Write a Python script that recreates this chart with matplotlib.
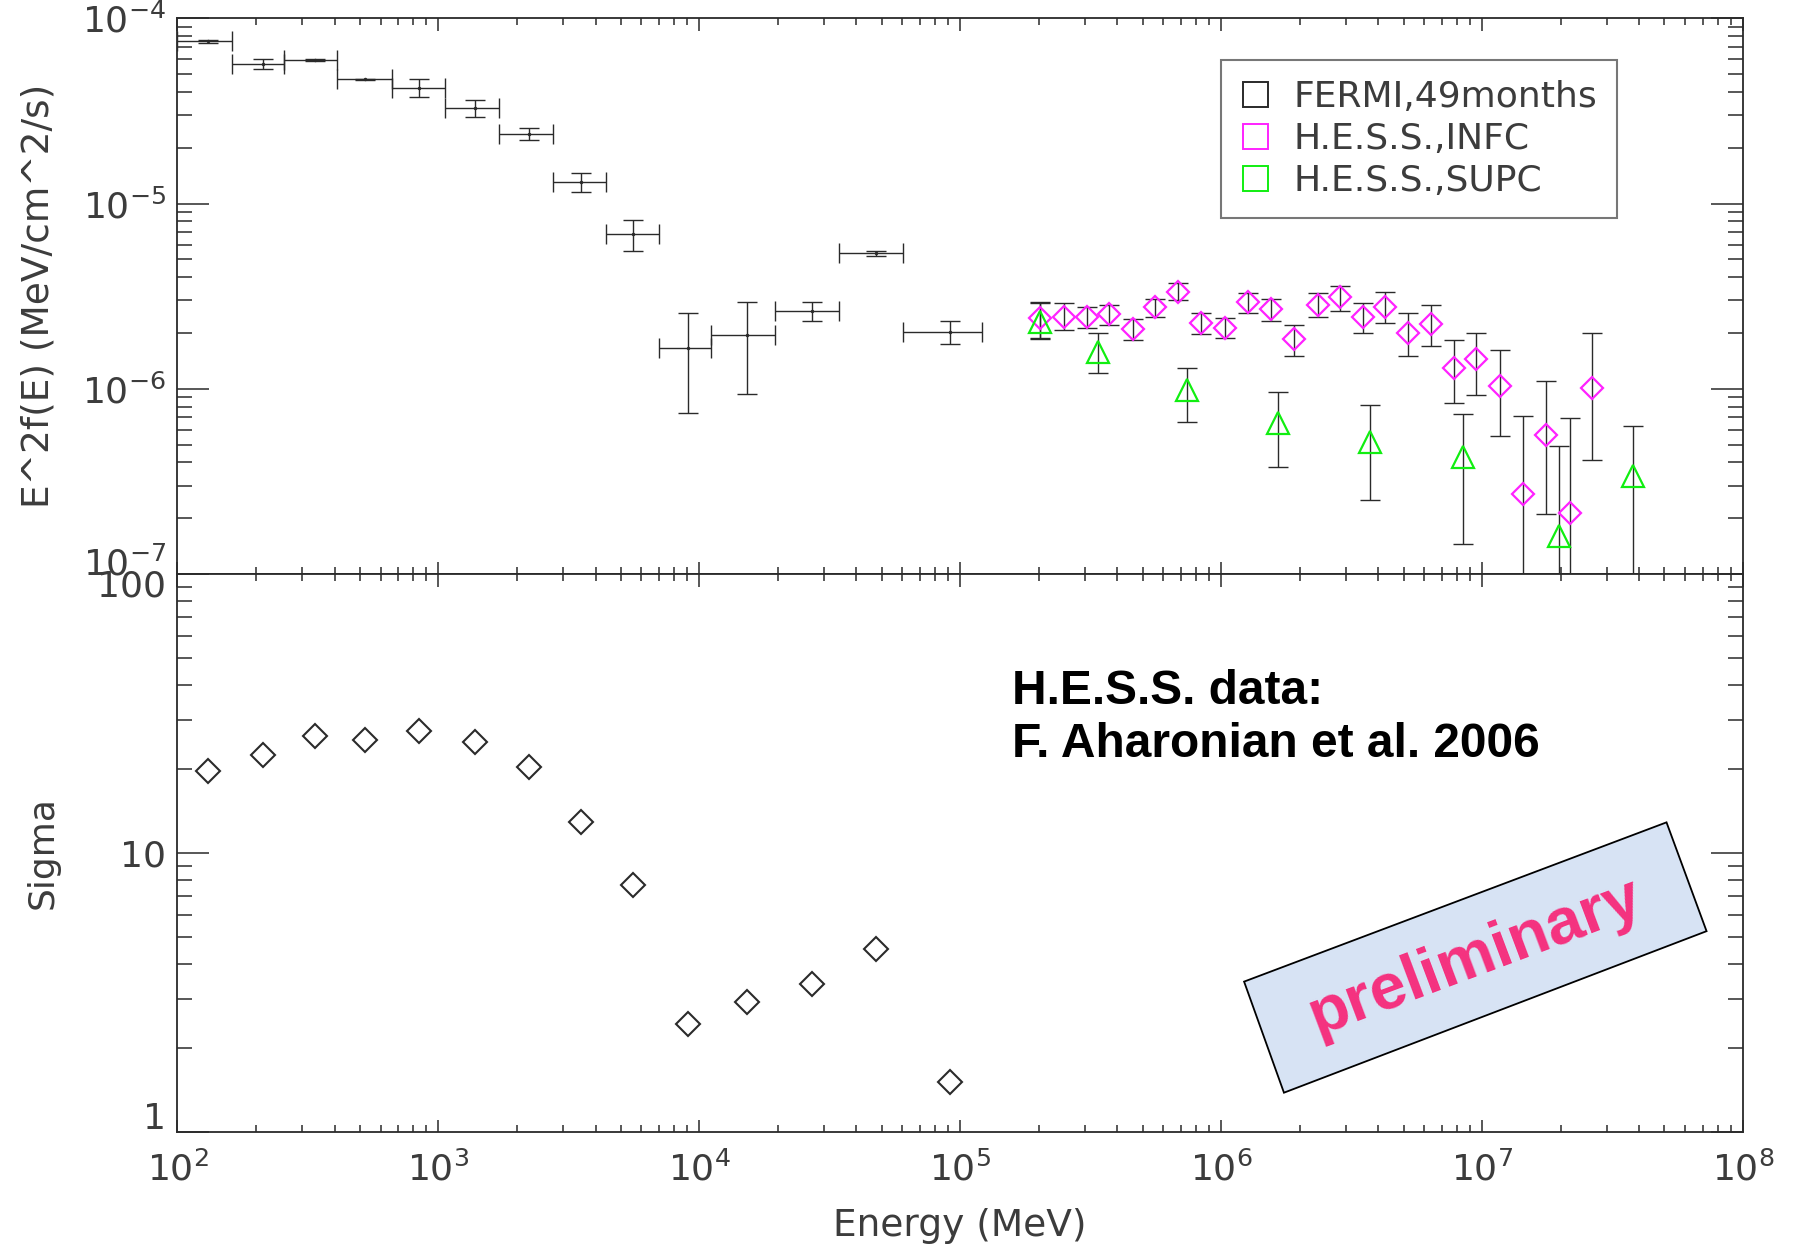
import matplotlib
matplotlib.use("Agg")
import matplotlib.pyplot as plt
import numpy as np
from matplotlib.lines import Line2D
from matplotlib.patches import Polygon
from matplotlib.ticker import LogLocator, NullFormatter, FuncFormatter

# FERMI, 49 months: bin edges and centres (MeV), E^2 f(E) (MeV/cm^2/s)
fermi_lo = [100, 162, 256, 409, 661, 1062, 1706, 2742, 4385, 7031, 11090, 19500, 34440, 60530]
fermi_hi = [162, 256, 409, 661, 1062, 1706, 2742, 4385, 7031, 11090, 19500, 34440, 60530, 121100]
fermi_e = [131, 212, 337, 525, 843, 1384, 2218, 3524, 5572, 9016, 15240, 26920, 47750, 90990]
fermi_f = [7.5e-5, 5.67e-5, 5.92e-5, 4.68e-5, 4.22e-5, 3.27e-5, 2.36e-5, 1.30e-5, 6.81e-6,
           1.65e-6, 1.95e-6, 2.63e-6, 5.38e-6, 2.03e-6]
fermi_up = [7.6e-5, 6.04e-5, 6.0e-5, 4.72e-5, 4.68e-5, 3.6e-5, 2.56e-5, 1.46e-5, 8.2e-6,
            2.55e-6, 2.95e-6, 2.95e-6, 5.55e-6, 2.32e-6]
fermi_dn = [7.4e-5, 5.33e-5, 5.85e-5, 4.64e-5, 3.76e-5, 2.93e-5, 2.19e-5, 1.15e-5, 5.56e-6,
            7.4e-7, 9.4e-7, 2.32e-6, 5.22e-6, 1.74e-6]
fermi_sigma = [19.6, 22.5, 26.3, 25.4, 27.3, 25.0, 20.4, 12.9, 7.66, 2.44, 2.93, 3.38, 4.54, 1.51]

# H.E.S.S. INFC
infc_e = [2.03e5, 2.49e5, 3.05e5, 3.72e5, 4.58e5, 5.58e5, 6.84e5, 8.39e5, 1.035e6, 1.27e6,
          1.55e6, 1.91e6, 2.34e6, 2.86e6, 3.50e6, 4.26e6, 5.19e6, 6.35e6, 7.80e6, 9.51e6,
          1.175e7, 1.43e7, 1.76e7, 2.18e7, 2.63e7]
infc_f = [2.40e-6, 2.45e-6, 2.43e-6, 2.52e-6, 2.09e-6, 2.75e-6, 3.34e-6, 2.27e-6, 2.13e-6, 2.93e-6,
          2.68e-6, 1.85e-6, 2.83e-6, 3.11e-6, 2.45e-6, 2.77e-6, 1.99e-6, 2.25e-6, 1.29e-6, 1.44e-6,
          1.03e-6, 2.69e-7, 5.62e-7, 2.14e-7, 1.01e-6]
infc_up = [2.89e-6, 2.89e-6, 2.77e-6, 2.83e-6, 2.37e-6, 3.05e-6, 3.71e-6, 2.57e-6, 2.42e-6, 3.27e-6,
           3.04e-6, 2.21e-6, 3.27e-6, 3.59e-6, 2.89e-6, 3.34e-6, 2.57e-6, 2.83e-6, 1.83e-6, 2.01e-6,
           1.62e-6, 7.12e-7, 1.10e-6, 6.92e-7, 2.01e-6]
infc_dn = [1.87e-6, 2.07e-6, 2.12e-6, 2.21e-6, 1.83e-6, 2.45e-6, 3.01e-6, 1.97e-6, 1.87e-6, 2.55e-6,
           2.33e-6, 1.50e-6, 2.45e-6, 2.63e-6, 2.01e-6, 2.27e-6, 1.50e-6, 1.70e-6, 8.40e-7, 9.24e-7,
           5.58e-7, 1e-8, 2.12e-7, 1e-8, 4.15e-7]

# H.E.S.S. SUPC
supc_e = [2.03e5, 3.38e5, 7.41e5, 1.656e6, 3.72e6, 8.47e6, 1.977e7, 3.776e7]
supc_f = [2.30e-6, 1.585e-6, 9.84e-7, 6.50e-7, 5.18e-7, 4.29e-7, 1.60e-7, 3.38e-7]
supc_up = [2.93e-6, 2.01e-6, 1.30e-6, 9.63e-7, 8.16e-7, 7.27e-7, 4.93e-7, 6.29e-7]
supc_dn = [1.85e-6, 1.21e-6, 6.58e-7, 3.76e-7, 2.51e-7, 1.46e-7, 1e-8, 1e-8]

labels = ["FERMI,49months", "H.E.S.S.,INFC", "H.E.S.S.,SUPC"]

INK = "#2a2a2a"
TXT = "#3c3c3c"
MAG = "#ff22ff"
GRN = "#11ee11"

plt.rcParams["font.family"] = ["DejaVu Sans"]

fig = plt.figure(figsize=(17.96, 12.58), dpi=100)
ax1 = fig.add_axes([0.09883, 0.54372, 0.87166, 0.44173])
ax2 = fig.add_axes([0.09883, 0.10016, 0.87166, 0.44356])

# ---- top panel: spectrum
e = np.array(fermi_e)
f = np.array(fermi_f)
ax1.errorbar(e, f,
             xerr=[e - np.array(fermi_lo), np.array(fermi_hi) - e],
             yerr=[f - np.array(fermi_dn), np.array(fermi_up) - f],
             fmt=".", ms=3, color=INK, ecolor=INK, elinewidth=1.0, capsize=7, capthick=1.0)

fi = np.array(infc_f)
ax1.errorbar(infc_e, fi, yerr=[fi - np.array(infc_dn), np.array(infc_up) - fi],
             fmt="none", ecolor=INK, elinewidth=1.0, capsize=7, capthick=1.0)
fs = np.array(supc_f)
ax1.errorbar(supc_e, fs, yerr=[fs - np.array(supc_dn), np.array(supc_up) - fs],
             fmt="none", ecolor=INK, elinewidth=1.0, capsize=7, capthick=1.0)
ax1.plot(infc_e, infc_f, "D", ms=11.5, mfc="none", mec=MAG, mew=1.6, zorder=4)
ax1.plot(supc_e, supc_f, "^", ms=16, mfc="none", mec=GRN, mew=1.6, zorder=4)

ax1.set_yscale("log")
ax1.set_ylim(1e-7, 1e-4)
ax1.set_ylabel("E^2f(E) (MeV/cm^2/s)", fontsize=27, color=TXT)
ax1.yaxis.set_label_coords(-0.077, 0.5)
ax1.yaxis.set_major_formatter(FuncFormatter(
    lambda v, p: "" if v < 1.5e-7 else r"$\mathdefault{10^{%d}}$" % round(np.log10(v))))

handles = [Line2D([], [], ls="none", marker="s", ms=18, mfc="none", mec=c, mew=1.4)
           for c in (INK, MAG, GRN)]
leg = ax1.legend(handles, labels, loc="upper left", bbox_to_anchor=(0.6666, 0.9245),
                 fontsize=26, frameon=True, fancybox=False, borderpad=0.55,
                 handlelength=0.8, handletextpad=0.65, labelspacing=0.22,
                 borderaxespad=0.0)
leg.get_frame().set_edgecolor("#555555")
leg.get_frame().set_linewidth(1.5)
for t in leg.get_texts():
    t.set_color(TXT)

# ---- bottom panel: significance
ax2.plot(fermi_e, fermi_sigma, "D", ms=12, mfc="none", mec=INK, mew=1.5)
ax2.set_yscale("log")
ax2.set_ylim(1, 100)
ax2.set_ylabel("Sigma", fontsize=26, color=TXT)
ax2.yaxis.set_label_coords(-0.075, 0.5)
ax2.set_xlabel("Energy (MeV)", fontsize=27, color=TXT, labelpad=15)
ax2.yaxis.set_major_formatter(FuncFormatter(lambda v, p: "%g" % v if 5 < v < 50 else ""))

for ax in (ax1, ax2):
    ax.set_xscale("log")
    ax.set_xlim(1e2, 1e8)
    ax.xaxis.set_minor_locator(LogLocator(base=10, subs=np.arange(2, 10), numticks=20))
    ax.yaxis.set_minor_locator(LogLocator(base=10, subs=np.arange(2, 10), numticks=20))
    ax.xaxis.set_minor_formatter(NullFormatter())
    ax.yaxis.set_minor_formatter(NullFormatter())
    ax.tick_params(which="both", direction="in", top=True, right=True, color=INK,
                   labelsize=26, labelcolor=TXT, width=1.1)
    ax.tick_params(axis="x", which="major", length=9, pad=14)
    ax.tick_params(axis="x", which="minor", length=5)
    ax.tick_params(axis="y", which="major", length=23, pad=8)
    ax.tick_params(axis="y", which="minor", length=11)
    for s in ax.spines.values():
        s.set_color(INK)
        s.set_linewidth(1.3)
ax1.tick_params(labelbottom=False)

# labels at the shared edge sit a little off their ticks, as in the original
ax1.annotate(r"$\mathdefault{10^{-7}}$", xy=(0, 1e-7), xycoords=ax1.get_yaxis_transform(),
             xytext=(-8, 7), textcoords="offset points", ha="right", va="center",
             fontsize=26, color=TXT)
ax2.annotate("100", xy=(0, 100), xycoords=ax2.get_yaxis_transform(),
             xytext=(-8, -9), textcoords="offset points", ha="right", va="center",
             fontsize=26, color=TXT)
ax2.annotate("1", xy=(0, 1), xycoords=ax2.get_yaxis_transform(),
             xytext=(-8, 9), textcoords="offset points", ha="right", va="center",
             fontsize=26, color=TXT)

# ---- annotations
fig.text(0.5637, 0.468, "H.E.S.S. data:\nF. Aharonian et al. 2006", fontsize=34.5,
         fontweight="bold", family="Liberation Sans", color="black", va="top",
         ha="left", linespacing=1.22)

box = Polygon([(0.6927, 0.2197), (0.9279, 0.3463), (0.9502, 0.2598), (0.7149, 0.1314)],
              closed=True, transform=fig.transFigure, facecolor="#d7e3f4",
              edgecolor="black", linewidth=1.3, zorder=5)
fig.patches.append(box)
fig.text(0.8214, 0.2393, "preliminary", fontsize=47, fontweight="bold",
         family="Liberation Sans", color="#f5317f", rotation=20.6,
         rotation_mode="anchor", ha="center", va="center", zorder=6)

fig.savefig("out.png", dpi=100)
